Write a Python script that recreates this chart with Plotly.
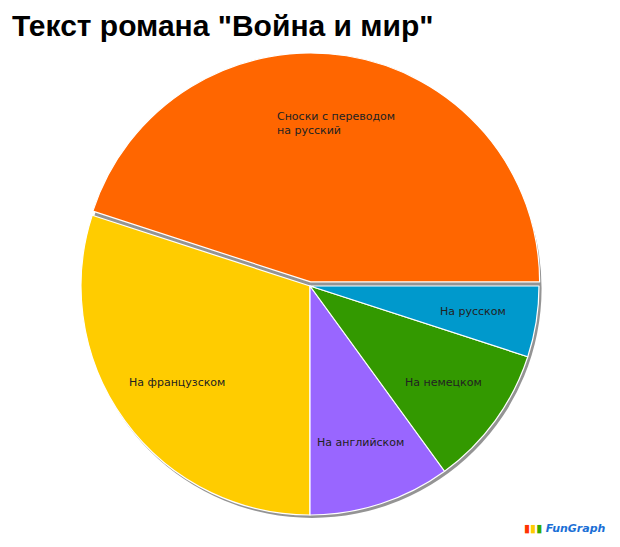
import math
import plotly.graph_objects as go

title_text = 'Текст романа "Война и мир"'
labels = ["Сноски с переводом<br>на русский", "На французском", "На английском", "На немецком", "На русском"]
values = [45, 30, 10, 10, 5]
colors = ["#FF6600", "#FFCC00", "#9966FF", "#339900", "#0099CC"]
pulls = [0.018, 0, 0, 0, 0]

W, H = 620, 547
OFF = 8  # page body margin
cx, cy, R = 310 - OFF, 286 - OFF, 229

def dom(cx, cy, half):
    return dict(x=[(cx - half) / W, (cx + half) / W],
                y=[(H - (cy + half)) / H, (H - (cy - half)) / H])

fig = go.Figure()
# shadow
fig.add_trace(go.Pie(values=[1], marker=dict(colors=["rgba(60,60,60,0.55)"], line=dict(width=0)),
                     textinfo="none", hoverinfo="skip", showlegend=False, sort=False,
                     domain=dom(cx + 2, cy + 2.5, R + 0.5)))
fig.add_trace(go.Pie(labels=labels, values=values, sort=False, direction="counterclockwise",
                     rotation=-72, pull=pulls,
                     marker=dict(colors=colors, line=dict(color="white", width=1.2)),
                     textinfo="none", hoverinfo="label+percent",
                     showlegend=False, domain=dom(cx, cy, R * (1 + max(pulls)))))

# slice labels at the mid-angle of each slice (first slice starts at 3 o'clock, counterclockwise)
total = sum(values)
cum = 0
for lab, v in zip(labels, values):
    mid = (cum + v / 2) / total * 2 * math.pi
    cum += v
    rr = 0.72 * R
    px = cx + rr * math.cos(mid)
    py = cy - rr * math.sin(mid)
    fig.add_annotation(text=lab, xref="paper", yref="paper", x=px / W, y=1 - py / H,
                       xanchor="center", yanchor="middle", align="left", showarrow=False,
                       font=dict(family="DejaVu Sans", size=11, color="#222"))

fig.add_annotation(text="<span style='color:#ff3300'>▮</span><span style='color:#ffcc00'>▮</span><span style='color:#33aa00'>▮</span> <b><i>FunGraph</i></b>",
                   xref="paper", yref="paper", x=(608 - OFF) / W, y=1 - (528 - OFF) / H,
                   xanchor="right", yanchor="middle",
                   showarrow=False, font=dict(family="DejaVu Sans", size=11, color="#1a6fd6"))

fig.update_layout(
    width=W, height=H, margin=dict(l=0, r=0, t=0, b=0),
    paper_bgcolor="white", plot_bgcolor="white",
    title=dict(text="<b>" + title_text + "</b>", x=(12 - OFF) / W, xanchor="left", xref="container",
               y=1 - (25.5 - OFF) / H, yref="container", yanchor="middle",
               font=dict(family="Liberation Sans", size=30, color="#000")),
)
fig.write_html("out.html")
